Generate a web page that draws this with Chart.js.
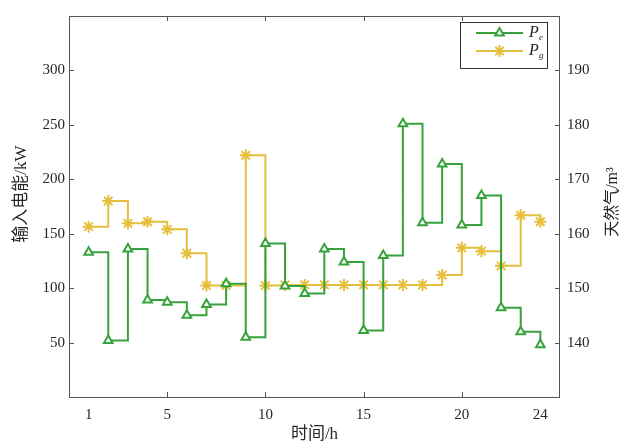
<!DOCTYPE html>
<html>
<head>
<meta charset="utf-8">
<script src="https://cdn.jsdelivr.net/npm/chart.js@4.4.1/dist/chart.umd.min.js"></script>
<style>
  html, body { margin: 0; padding: 0; background: #fff; }
  #wrap { width: 631px; height: 445px; position: relative; }
</style>
</head>
<body>
<div id="wrap"><canvas id="myChart" width="631" height="445"></canvas></div>
<script>
'use strict'

// hours
const horas = [1, 2, 3, 4, 5, 6, 7, 8, 9, 10, 11, 12, 13, 14, 15, 16, 17, 18, 19, 20, 21, 22, 23, 24]

// input electric power Pe (kW), left axis
const pe = [133, 52, 136, 89, 87, 75, 85, 104, 55, 141, 102, 95,
  136, 124, 61, 130, 251, 160, 214, 158, 185, 82, 60, 48]

// natural gas Pg (m3), right axis
const pg = [161.3, 166.0, 161.9, 162.2, 160.8, 156.4, 150.5, 150.5, 174.4, 150.5, 150.6, 150.6,
  150.6, 150.6, 150.6, 150.6, 150.6, 150.6, 152.4, 157.4, 156.8, 154.1, 163.4, 162.2]

const xTicks = [1, 5, 10, 15, 20, 24]
const xTickMarks = [5, 10, 15, 20]
const leftTicks = [50, 100, 150, 200, 250, 300]
const rightTicks = [140, 150, 160, 170, 180, 190]

const verde = '#37a23c'
const amarelo = '#e6bf3d'
const serif = "'Liberation Serif', 'Noto Sans CJK SC', serif"

const toPoints = (ys) => horas.map((h, i) => ({ x: h, y: ys[i] }))

// frame, inward ticks, axis titles and legend
const molduraPlugin = {
  id: 'moldura',
  afterDraw(chart) {
    const ctx = chart.ctx
    const area = chart.chartArea
    const sx = chart.scales.x
    const sy = chart.scales.y
    const sy1 = chart.scales.y1

    ctx.save()
    ctx.strokeStyle = '#555'
    ctx.lineWidth = 1
    ctx.strokeRect(area.left + 0.5, area.top + 0.5, area.right - area.left - 1, area.bottom - area.top)

    ctx.beginPath()
    xTickMarks.forEach((v) => {
      const px = Math.round(sx.getPixelForValue(v)) + 0.5
      ctx.moveTo(px, area.bottom); ctx.lineTo(px, area.bottom - 5)
      ctx.moveTo(px, area.top); ctx.lineTo(px, area.top + 5)
    })
    leftTicks.forEach((v) => {
      const py = Math.round(sy.getPixelForValue(v)) + 0.5
      ctx.moveTo(area.left, py); ctx.lineTo(area.left + 5, py)
    })
    rightTicks.forEach((v) => {
      const py = Math.round(sy1.getPixelForValue(v)) + 0.5
      ctx.moveTo(area.right, py); ctx.lineTo(area.right - 5, py)
    })
    ctx.stroke()

    // y titles, both reading bottom to top
    ctx.fillStyle = '#262626'
    ctx.textAlign = 'center'
    ctx.textBaseline = 'middle'

    ctx.save()
    ctx.font = '17px ' + serif
    ctx.translate(22, 194)
    ctx.rotate(-Math.PI / 2)
    ctx.fillText('输入电能/kW', 0, 0)
    ctx.restore()

    ctx.save()
    ctx.font = '16px ' + serif
    ctx.translate(613, 202)
    ctx.rotate(-Math.PI / 2)
    ctx.fillText('天然气/m³', 0, 0)
    ctx.restore()
    ctx.restore()

    // legend box
    const lx = 460, ly = 22, lw = 87, lh = 46
    ctx.save()
    ctx.fillStyle = '#fff'
    ctx.fillRect(lx, ly, lw, lh)
    ctx.strokeStyle = '#333'
    ctx.lineWidth = 1
    ctx.strokeRect(lx + 0.5, ly + 0.5, lw, lh)

    chart.data.datasets.forEach((ds, i) => {
      const y = ly + 11 + i * 18
      ctx.strokeStyle = ds.borderColor
      ctx.lineWidth = 2
      ctx.beginPath()
      ctx.moveTo(476, y); ctx.lineTo(523, y)
      ctx.stroke()
      ctx.fillStyle = ds.pointBackgroundColor
      ctx.strokeStyle = ds.pointBorderColor
      ctx.lineWidth = ds.pointBorderWidth
      Chart.helpers.drawPoint(ctx, {
        pointStyle: ds.pointStyle,
        radius: ds.pointRadius,
        borderWidth: ds.pointBorderWidth,
        rotation: 0
      }, 499.5, y)

      ctx.fillStyle = '#262626'
      ctx.textAlign = 'left'
      ctx.textBaseline = 'middle'
      ctx.font = 'italic 16px ' + serif
      ctx.fillText('P', 529, y)
      ctx.font = 'italic 9px ' + serif
      ctx.fillText(ds.sub, 539, y + 5)
    })
    ctx.restore()
  }
}

const ctx = document.getElementById('myChart')

const myChart = new Chart(ctx, {
  type: 'line',
  data: {
    datasets: [{
      label: 'Pe',
      sub: 'e',
      data: toPoints(pe),
      yAxisID: 'y',
      stepped: 'before',
      borderColor: verde,
      backgroundColor: '#fff',
      borderWidth: 2,
      pointStyle: 'triangle',
      pointRadius: 5,
      pointBorderWidth: 2,
      pointBackgroundColor: '#fff',
      pointBorderColor: verde
    }, {
      label: 'Pg',
      sub: 'g',
      data: toPoints(pg),
      yAxisID: 'y1',
      stepped: 'before',
      borderColor: amarelo,
      backgroundColor: amarelo,
      borderWidth: 2,
      pointStyle: 'star',
      pointRadius: 6,
      pointBorderWidth: 2,
      pointBackgroundColor: amarelo,
      pointBorderColor: amarelo
    }]
  },
  options: {
    responsive: false,
    animation: false,
    events: [],
    layout: { padding: { top: 10, left: 0, right: 0, bottom: 0 } },
    plugins: {
      legend: { display: false },
      tooltip: { enabled: false }
    },
    scales: {
      x: {
        type: 'linear',
        min: 0,
        max: 25,
        afterBuildTicks: (scale) => { scale.ticks = xTicks.map((v) => ({ value: v })) },
        afterFit: (scale) => { scale.height = 48 },
        grid: { display: false, drawTicks: false },
        border: { display: false },
        ticks: {
          color: '#262626',
          font: { family: serif, size: 15 },
          padding: 9,
          maxRotation: 0,
          autoSkip: false
        },
        title: {
          display: true,
          text: '时间/h',
          color: '#262626',
          font: { family: serif, size: 17 },
          padding: { top: 0, bottom: 0 }
        }
      },
      y: {
        position: 'left',
        min: 0,
        max: 350,
        afterBuildTicks: (scale) => { scale.ticks = leftTicks.map((v) => ({ value: v })) },
        afterFit: (scale) => { scale.width = 69 },
        grid: { display: false, drawTicks: false },
        border: { display: false },
        ticks: {
          color: '#262626',
          font: { family: serif, size: 15 },
          padding: 4
        }
      },
      y1: {
        position: 'right',
        min: 130,
        max: 200,
        afterBuildTicks: (scale) => { scale.ticks = rightTicks.map((v) => ({ value: v })) },
        afterFit: (scale) => { scale.width = 71 },
        grid: { display: false, drawTicks: false },
        border: { display: false },
        ticks: {
          color: '#262626',
          font: { family: serif, size: 15 },
          padding: 7
        }
      }
    }
  },
  plugins: [molduraPlugin]
})
</script>
</body>
</html>
